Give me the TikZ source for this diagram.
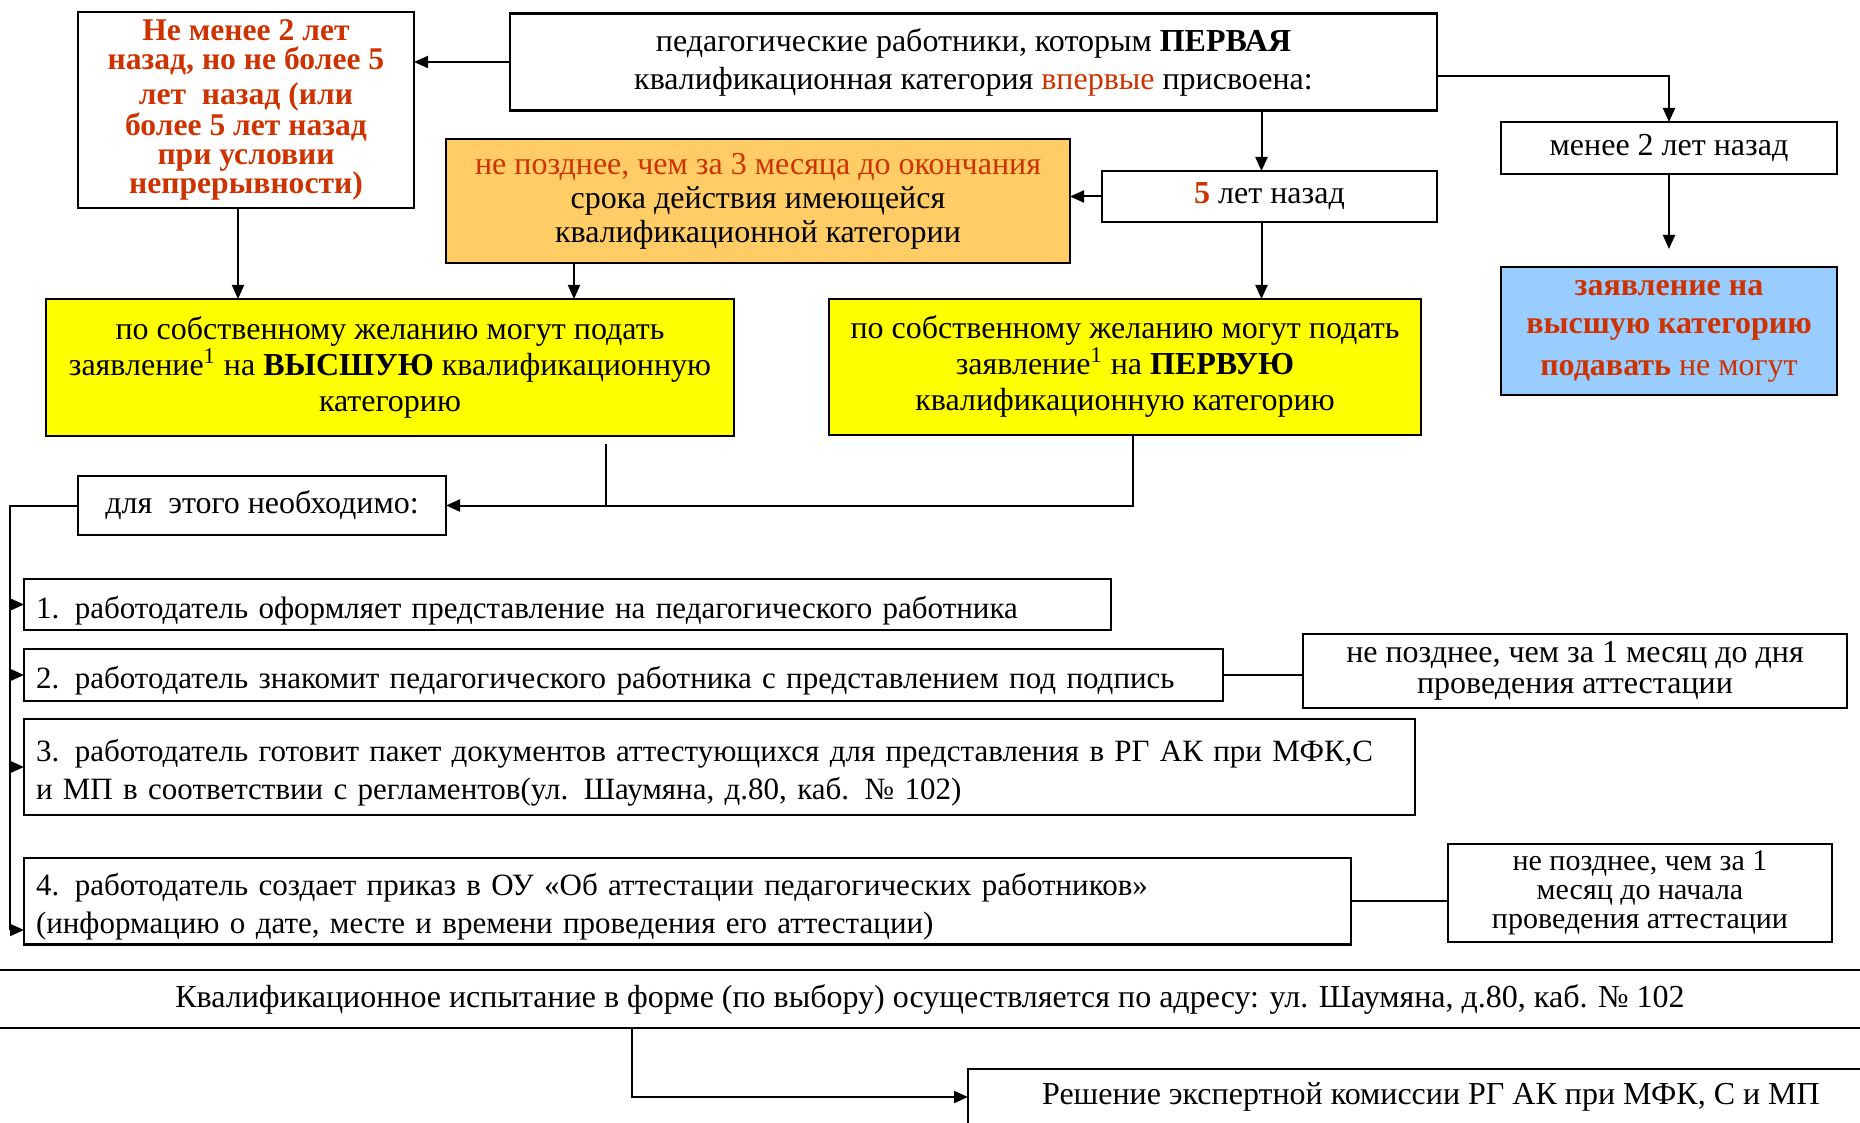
\documentclass[tikz,border=0pt]{standalone}
\usepackage{fontspec}
\setmainfont{Liberation Serif}
\usetikzlibrary{arrows.meta}
\definecolor{txtred}{HTML}{CC3300}
\definecolor{boxorange}{HTML}{FFCC66}
\definecolor{boxblue}{HTML}{99CCFF}
\definecolor{boxyellow}{HTML}{FFFF00}

\begin{document}
\begin{tikzpicture}[x=0.5pt,y=-0.5pt,
	box/.style={draw,line width=1.2pt,inner sep=2pt,outer sep=0pt,align=center,font=\fontsize{16}{19}\selectfont},
	item/.style={box,align=left,inner xsep=6pt,text height=17pt,font=\fontsize{15.5}{19}\selectfont},
	arr/.style={line width=1pt,-{Triangle[length=7pt,width=6pt]}},
	link/.style={line width=1pt}]
	\useasboundingbox (0,0) rectangle (1860,1123);
	\clip (0,0) rectangle (1860,1123);
	% top row
	\node[box,minimum width=168pt,minimum height=98pt,text=txtred,font={\fontsize{15.8}{14.5}\selectfont\bfseries}] (ago25) at (246,110) {Не менее 2 лет\\ назад, но не более 5\\[3pt] лет\ \ назад (или\\ более 5 лет назад\\ при условии\\ непрерывности)};
	\node[box,minimum width=463.5pt,minimum height=48.5pt] (first) at (973.5,62) {педагогические работники, которым \textbf{ПЕРВАЯ}\\ квалификационная категория \textcolor{txtred}{впервые} присвоена:};
	\node[box,minimum width=168pt,minimum height=26pt] (lt2) at (1669,148) {менее 2 лет назад};
	\node[box,fill=boxblue,minimum width=168pt,minimum height=64pt,text=txtred] (nohigh) at (1669,331) {\textbf{заявление на}\\ \textbf{высшую категорию}\\[2pt] \textbf{подавать} не могут};
	\node[box,minimum width=167.5pt,minimum height=25.5pt] (five) at (1269.5,196.5) {\textcolor{txtred}{\textbf{5}} лет назад};
	\node[box,fill=boxorange,minimum width=312pt,minimum height=62pt,font=\fontsize{16}{17}\selectfont] (before3m) at (758,201) {\textcolor{txtred}{не позднее, чем за 3 месяца до окончания}\\ срока действия имеющейся\\ квалификационной категории};
	% yellow boxes
	\node[box,fill=boxyellow,minimum width=344pt,minimum height=68.5pt,font=\fontsize{16}{18}\selectfont] (wanthigh) at (390,367.5) {по собственному желанию могут подать\\ заявление\textsuperscript{1} на \textbf{ВЫСШУЮ} квалификационную\\ категорию};
	\node[box,fill=boxyellow,minimum width=296pt,minimum height=68pt,font=\fontsize{16}{18}\selectfont] (wantfirst) at (1125,367) {по собственному желанию могут подать\\ заявление\textsuperscript{1} на \textbf{ПЕРВУЮ}\\ квалификационную категорию};
	\node[box,minimum width=184pt,minimum height=29.5pt] (need) at (262,505.5) {для\ \ этого необходимо:};
	% steps
	\node[item,text width=531.5pt,minimum height=25.5pt] (step1) at (567.5,604.5) {1. работодатель оформляет представление на педагогического работника};
	\node[item,text width=587.5pt,minimum height=26pt] (step2) at (623.5,675) {2. работодатель знакомит педагогического работника с представлением под подпись};
	\node[item,text width=683.5pt,minimum height=48pt] (step3) at (719.5,767) {3. работодатель готовит пакет документов аттестующихся для представления в РГ АК при МФК,С\\ и МП в соответствии с регламентов(ул. Шаумяна, д.80, каб. № 102)};
	\node[item,text width=651.5pt,minimum height=42pt] (step4) at (687.5,901) {4. работодатель создает приказ в ОУ «Об аттестации педагогических работников»\\ (информацию о дате, месте и времени проведения его аттестации)};
	\node[box,minimum width=272pt,minimum height=37pt,font=\fontsize{16}{15.5}\selectfont] (month1) at (1575,671) {не позднее, чем за 1 месяц до дня\\ проведения аттестации};
	\node[box,minimum width=192pt,minimum height=49pt,font=\fontsize{15}{14.5}\selectfont] (month1b) at (1640,893) {не позднее, чем за 1\\ месяц до начала\\ проведения аттестации};
	% bottom
	\node[box,minimum width=950pt,minimum height=29pt] (exam) at (930,999) {Квалификационное испытание в форме (по выбору) осуществляется по адресу: ул. Шаумяна, д.80, каб. № 102};
	\node[box,minimum width=463pt,minimum height=28pt] (decision) at (1431,1097) {Решение экспертной комиссии РГ АК при МФК, С и МП};
	% connectors
	\draw[arr] (first.west) -- (first.west -| ago25.east);
	\draw[arr] ([yshift=-7pt]first.east) -| (lt2.north);
	\draw[arr] ([xshift=-4pt]five.north |- first.south) -- ([xshift=-4pt]five.north);
	\draw[arr,shorten >=9pt] (lt2.south) -- (nohigh.north);
	\draw[arr] (five.west) -- (five.west -| before3m.east);
	\draw[arr] ([xshift=-4pt]ago25.south) -- ([xshift=-4pt]ago25.south |- wanthigh.north);
	\draw[arr] ([xshift=64pt]before3m.south west) -- ([xshift=64pt]before3m.south west |- wanthigh.north);
	\draw[arr] ([xshift=-4pt]five.south) -- ([xshift=-4pt]five.south |- wantfirst.north);
	\draw[link] ([xshift=280pt,yshift=-4pt]wanthigh.south west) -- ([xshift=280pt]wanthigh.south west |- need.east);
	\draw[arr] ([xshift=4pt]wantfirst.south) |- (need.east);
	\coordinate (rail) at (9.5,930);
	\draw[link] (need.west) -| (rail);
	\foreach \s in {step1,step2,step3}
		\draw[arr] (rail |- \s.west) -- (\s.west);
	\draw[arr] (rail) -- (rail -| step4.west);
	\draw[link] (step2.east) -- (step2.east -| month1.west);
	\draw[link] (step4.east) -- (step4.east -| month1b.west);
	\draw[arr] ([xshift=326pt]exam.south west) |- (decision.west);
\end{tikzpicture}
\end{document}
